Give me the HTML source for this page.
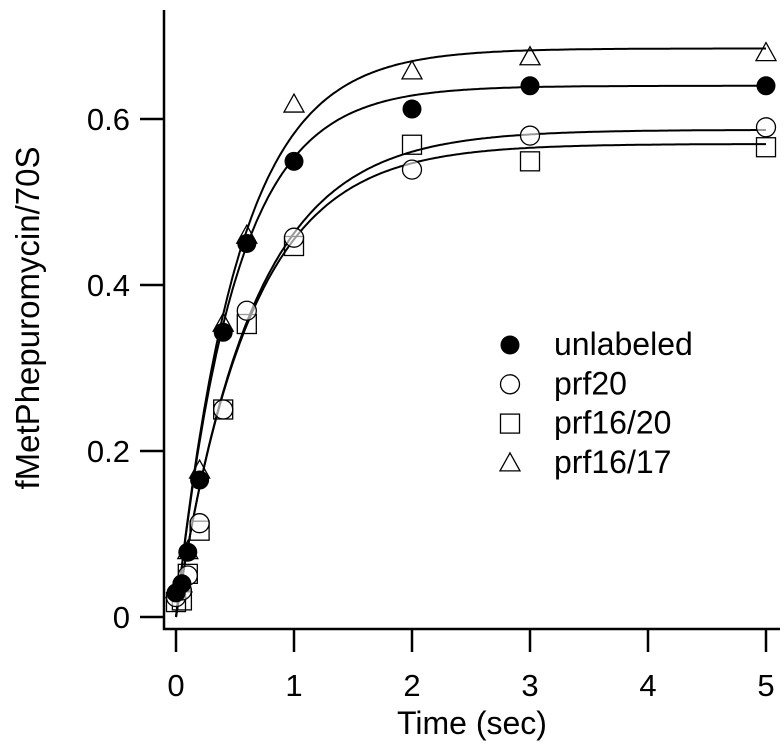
<!DOCTYPE html><html><head><style>body{margin:0;background:#fff}svg{display:block}text{font-family:"Liberation Sans",Arial,sans-serif;fill:#000}</style></head><body>
<svg id="c" width="784" height="756"></svg>
<script>
const times=[0,0.05,0.1,0.2,0.4,0.6,1,2,3,5];
const unlabeled=[0.029,0.04,0.078,0.165,0.343,0.45,0.549,0.612,0.64,0.64];
const prf20=[0.024,0.032,0.05,0.113,0.25,0.369,0.457,0.539,0.58,0.59];
const prf1620=[0.018,0.02,0.052,0.104,0.25,0.353,0.447,0.569,0.549,0.566];
const prf1617=[0.033,0.04,0.08,0.177,0.354,0.46,0.618,0.658,0.675,0.68];
const fits={unlabeled:[0.64,2.0],prf20:[0.587,1.55],prf1620:[0.57,1.6],prf1617:[0.685,1.9]};
const xTicks=[0,1,2,3,4,5];
const yTicks=[0,0.2,0.4,0.6];
const X=t=>176+t*118, Y=v=>617-v*830;
const s=document.getElementById('c');const NS='http://www.w3.org/2000/svg';
function el(tag,at,p){const e=document.createElementNS(NS,tag);for(const k in at)e.setAttribute(k,at[k]);(p||s).appendChild(e);return e;}
let a=el('path',{d:'M164 10V629H780',fill:'none',stroke:'#000','stroke-width':2.5});


xTicks.forEach(t=>{const l=el('line',{x1:X(t),x2:X(t),y1:629,y2:652,stroke:'#000','stroke-width':2.5});


const tx=el('text',{x:X(t),y:696,'font-size':31,'text-anchor':'middle'});tx.textContent=t;

});
yTicks.forEach(v=>{const l=el('line',{x1:140,x2:164,y1:Y(v),y2:Y(v),stroke:'#000','stroke-width':2.5});


const tx=el('text',{x:130,y:Y(v)+11,'font-size':31,'text-anchor':'end'});tx.textContent=v===0?'0':v.toFixed(1);

});
let xl=el('text',{x:472,y:734,'font-size':32,'text-anchor':'middle'});xl.textContent='Time (sec)';


let yl=el('text',{x:0,y:0,'font-size':33,'text-anchor':'middle',transform:'translate(39,318) rotate(-90)'});yl.textContent='fMetPhepuromycin/70S';


Object.keys(fits).forEach(k=>{const [A,kk]=fits[k];let d='';for(let i=0;i<=250;i++){const t=i*0.02;d+=(i?'L':'M')+X(t).toFixed(1)+' '+Y(A*(1-Math.exp(-kk*t))).toFixed(1);}
const p=el('path',{d,fill:'none',stroke:'#000','stroke-width':2});

});
function marker(type,x,y){let m;
if(type==='dot')m=el('circle',{cx:x,cy:y,r:9.5,fill:'#000'});
else if(type==='circle')m=el('circle',{cx:x,cy:y,r:9.5,fill:'#fff','fill-opacity':0.6,stroke:'#000','stroke-width':1.3});
else if(type==='square')m=el('rect',{x:x-9.5,y:y-9.5,width:19,height:19,fill:'none',stroke:'#000','stroke-width':1.3});
else m=el('path',{d:`M${x} ${y-10}L${x+10} ${y+8}L${x-10} ${y+8}Z`,fill:'none',stroke:'#000','stroke-width':1.3});
return m;}
const series=[['unlabeled','dot',unlabeled],['prf20','circle',prf20],['prf16/20','square',prf1620],['prf16/17','tri',prf1617]];
series.slice().reverse().forEach(([n,tp,vals])=>{vals.forEach((v,i)=>{const m=marker(tp,X(times[i]),Y(v));

});});
series.forEach(([n,tp],i)=>{const y=345+i*39.3;const m=marker(tp,510,y);


const t=el('text',{x:554,y:y+10,'font-size':32});t.textContent=n;

});
</script></body></html>
